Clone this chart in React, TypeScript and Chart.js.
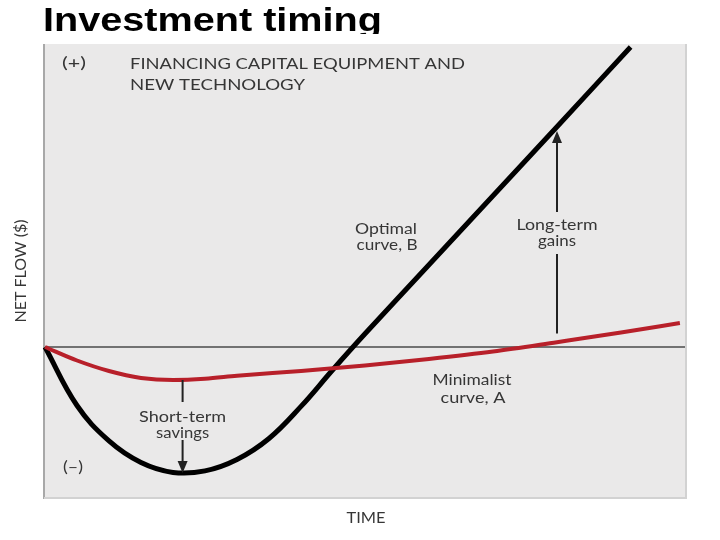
import React, { useEffect, useRef } from "react";
import { Chart, registerables } from "chart.js";

Chart.register(...registerables);

// Optimal curve, B (black)
const optimalX = [0, 5, 10, 15, 20, 25, 30, 35, 40, 45, 50, 60, 70, 80, 91.5];
const optimalY = [0, -19.5, -31.3, -38.5, -41.8, -41.3, -37.5, -30.5, -19.8, -7.5, 4.4, 27.4, 50.4, 73.4, 100];

// Minimalist curve, A (red)
const minimalX = [0, 5, 10, 15, 20, 25, 30, 40, 50, 60, 70, 80, 90, 99.2];
const minimalY = [0, -4.5, -8, -10.3, -11, -10.6, -9.6, -8, -6.2, -4, -1.5, 1.6, 4.8, 8];

// arrows: x position, start value, end value
const savingsArrow = { x: 21.5, from: -11, to: -42 };
const gainsArrow = { x: 80, from: 4.5, to: 72 };

const annoFont = "Lato, 'Open Sans', sans-serif";
const textColor = "#363636";

const toPoints = (xs: number[], ys: number[]) => xs.map((x, i) => ({ x, y: ys[i] }));

// draw text stretched horizontally to a given width
const fitText = (ctx: any, text: string, x: number, y: number, w: number, align: "left" | "center") => {
  const m = ctx.measureText(text).width;
  const sx = w / m;
  ctx.save();
  ctx.translate(align === "center" ? x - w / 2 : x, y);
  ctx.scale(sx, 1);
  ctx.textAlign = "left";
  ctx.fillText(text, 0, 0);
  ctx.restore();
};

const decorPlugin = {
  id: "decor",
  beforeDraw(chart: any) {
    const { ctx, chartArea: a } = chart;
    ctx.save();
    ctx.fillStyle = "#ffffff";
    ctx.fillRect(0, 0, chart.width, chart.height);

    // title, bottom cut off
    ctx.save();
    ctx.beginPath();
    ctx.rect(0, 0, chart.width, 34);
    ctx.clip();
    ctx.fillStyle = "#000";
    ctx.font = "bold 34px 'Liberation Sans', Arial, sans-serif";
    ctx.textBaseline = "alphabetic";
    fitText(ctx, "Investment timing", 43, 30.5, 339, "left");
    ctx.restore();

    // panel
    ctx.fillStyle = "#eae9e9";
    ctx.fillRect(a.left - 2, a.top - 3, a.right - a.left + 4, a.bottom - a.top + 5);
    ctx.strokeStyle = "#a8a8a8";
    ctx.lineWidth = 2;
    ctx.beginPath();
    ctx.moveTo(a.left - 1, a.top - 3);
    ctx.lineTo(a.left - 1, a.bottom + 2);
    ctx.stroke();
    ctx.strokeStyle = "#d2d2d2";
    ctx.beginPath();
    ctx.moveTo(a.left - 1, a.bottom + 1);
    ctx.lineTo(a.right + 2, a.bottom + 1);
    ctx.moveTo(a.right + 1, a.top - 3);
    ctx.lineTo(a.right + 1, a.bottom + 1);
    ctx.stroke();

    // zero line
    const y0 = chart.scales.y.getPixelForValue(0);
    ctx.strokeStyle = "#4a4a4a";
    ctx.lineWidth = 1.5;
    ctx.beginPath();
    ctx.moveTo(a.left, y0);
    ctx.lineTo(a.right, y0);
    ctx.stroke();

    // texts
    ctx.fillStyle = textColor;
    ctx.font = `15px ${annoFont}`;
    ctx.textBaseline = "middle";
    fitText(ctx, "(+)", 62, 63, 24, "left");
    fitText(ctx, "(–)", 63, 467, 20, "left");
    fitText(ctx, "FINANCING CAPITAL EQUIPMENT AND", 130, 64, 335, "left");
    fitText(ctx, "NEW TECHNOLOGY", 130, 85, 175, "left");

    fitText(ctx, "Optimal", 386, 229, 62, "center");
    fitText(ctx, "curve, B", 387, 245, 61, "center");
    fitText(ctx, "Minimalist", 472, 380, 79, "center");
    fitText(ctx, "curve, A", 473, 398, 65, "center");
    fitText(ctx, "TIME", 366, 518, 39, "center");

    ctx.save();
    ctx.translate(21, 271);
    ctx.rotate(-Math.PI / 2);
    fitText(ctx, "NET FLOW ($)", 0, 0, 103, "center");
    ctx.restore();
    ctx.restore();
  },
  afterDatasetsDraw(chart: any) {
    const { ctx } = chart;
    const xs = chart.scales.x;
    const ys = chart.scales.y;
    const arrow = (
      ar: { x: number; from: number; to: number },
      gapTop: number,
      gapBot: number,
      lines: { t: string; w: number }[],
      textY: number
    ) => {
      const px = xs.getPixelForValue(ar.x);
      const p1 = ys.getPixelForValue(ar.from);
      const p2 = ys.getPixelForValue(ar.to);
      const dir = p2 > p1 ? 1 : -1;
      ctx.save();
      ctx.strokeStyle = "#222";
      ctx.fillStyle = "#222";
      ctx.lineWidth = 2;
      ctx.beginPath();
      ctx.moveTo(px, p1);
      ctx.lineTo(px, dir > 0 ? gapTop : gapBot);
      ctx.moveTo(px, dir > 0 ? gapBot : gapTop);
      ctx.lineTo(px, p2 - dir * 10);
      ctx.stroke();
      ctx.beginPath();
      ctx.moveTo(px, p2);
      ctx.lineTo(px - 5, p2 - dir * 12);
      ctx.lineTo(px + 5, p2 - dir * 12);
      ctx.closePath();
      ctx.fill();
      ctx.fillStyle = textColor;
      ctx.font = `15px ${annoFont}`;
      ctx.textBaseline = "middle";
      lines.forEach((l, i) => fitText(ctx, l.t, px, textY + i * 16.5, l.w, "center"));
      ctx.restore();
    };
    arrow(savingsArrow, 402, 440, [{ t: "Short-term", w: 87 }, { t: "savings", w: 53 }], 417);
    arrow(gainsArrow, 212, 254, [{ t: "Long-term", w: 81 }, { t: "gains", w: 38 }], 225);
  },
};

export default function App() {
  const canvasRef = useRef<HTMLCanvasElement | null>(null);

  useEffect(() => {
    if (!canvasRef.current) return;
    const chart = new Chart(canvasRef.current, {
      type: "line",
      data: {
        datasets: [
          {
            label: "Minimalist curve, A",
            data: toPoints(minimalX, minimalY),
            borderColor: "#b8202a",
            borderWidth: 4,
            pointRadius: 0,
            cubicInterpolationMode: "monotone",
            clip: false,
          },
          {
            label: "Optimal curve, B",
            data: toPoints(optimalX, optimalY),
            borderColor: "#000000",
            borderWidth: 5,
            pointRadius: 0,
            tension: 0.4,
            clip: false,
          },
        ],
      },
      options: {
        responsive: false,
        animation: false,
        layout: { padding: { left: 45, right: 35, top: 47, bottom: 43 } },
        plugins: { legend: { display: false }, tooltip: { enabled: false } },
        scales: {
          x: { type: "linear", min: 0, max: 100, display: false },
          y: { type: "linear", min: -50, max: 100, display: false },
        },
      },
      plugins: [decorPlugin],
    });
    return () => chart.destroy();
  }, []);

  return (
    <div style={{ position: "fixed", left: 0, top: 0, width: 720, height: 540 }}>
      <canvas ref={canvasRef} width={720} height={540} />
    </div>
  );
}
